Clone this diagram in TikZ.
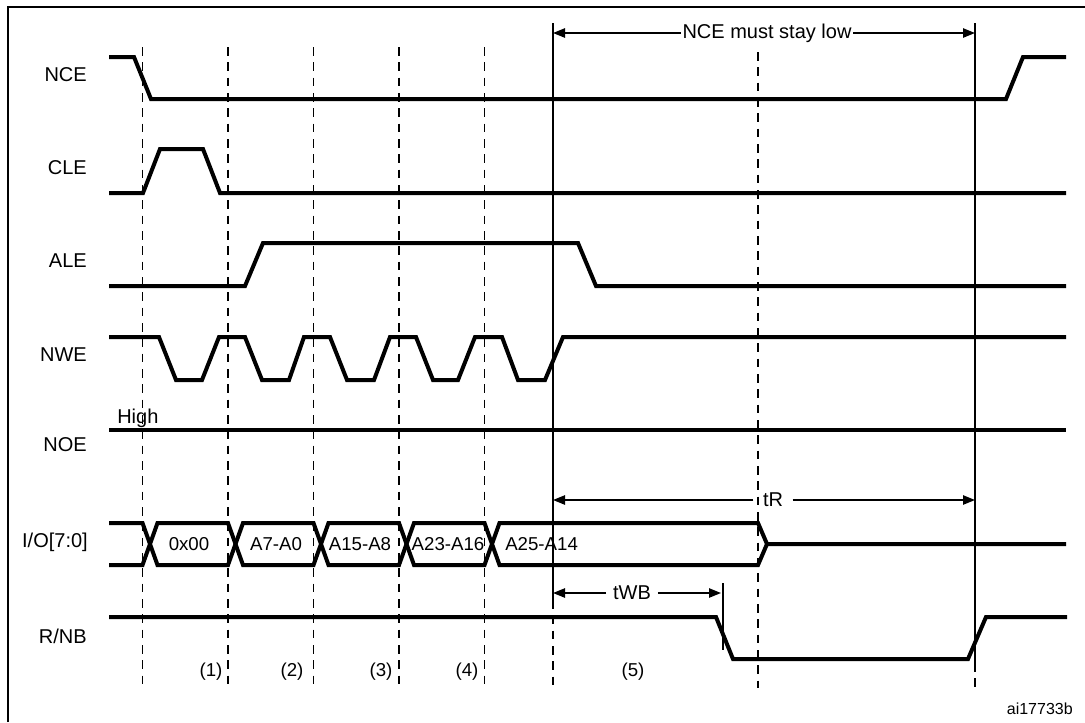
\documentclass[tikz,border=0pt]{standalone}
\usepackage{fontspec}
\setmainfont{Liberation Sans}
\usetikzlibrary{arrows.meta}
\begin{document}
\begin{tikzpicture}[x=0.75pt,y=-0.75pt,
  sig/.style={line width=3pt, line join=miter, line cap=butt},
  guide/.style={line width=1.1pt, dash pattern=on 6.5pt off 5pt},
  thinline/.style={line width=1.1pt},
  dim/.style={line width=1.1pt, -{Triangle[length=9pt,width=7pt]}},
  lbl/.style={font=\fontsize{15}{18}\selectfont, anchor=east, inner sep=0pt},
  txt/.style={font=\fontsize{15}{18}\selectfont, inner sep=0pt},
  bustxt/.style={font=\fontsize{14}{17}\selectfont, inner sep=0pt},
]
\useasboundingbox (0,0) rectangle (1085,722);
\fill[white] (0,0) rectangle (1085,722);
% frame (cut off at right and bottom)
\draw[line width=1.5pt] (7.5,722) -- (7.5,7) -- (1085,7);

% guide lines
\foreach \gx in {142.5,228,313.5,399,484.5}
  \draw[guide] (\gx,47) -- (\gx,688);
\draw[guide] (758,52) -- (758,688);
\draw[thinline] (553,23) -- (553,600);
\draw[guide] (553,600) -- (553,688);
\draw[thinline] (975,23) -- (975,663);
\draw[guide] (975,663) -- (975,688);

% signal labels
\node[lbl] (lnce) at (87,75) {NCE};
\node[lbl] (lcle) at (87,168) {CLE};
\node[lbl] (lale) at (87,261) {ALE};
\node[lbl] (lnwe) at (87,355) {NWE};
\node[lbl] (lnoe) at (87,445) {NOE};
\node[lbl] (lio) at (88,542) {I/O[7:0]};
\node[lbl] (lrnb) at (87,636) {R/NB};

% NCE
\draw[sig] (109,57) -- (134,57) -- (151,99) -- (1006,99) -- (1023,57) -- (1066,57);
% CLE
\draw[sig] (109,193) -- (143,193) -- (160,149) -- (203,149) -- (220,193) -- (1066,193);
% ALE
\draw[sig] (109,286) -- (245,286) -- (263,243) -- (578,243) -- (596,286) -- (1066,286);
% NWE
\draw[sig] (109,337) -- (159,337) -- (176,380) -- (202,380) -- (219,337)
  -- (245,337) -- (262,380) -- (289,380) -- (304,337)
  -- (330,337) -- (347,380) -- (374,380) -- (390,337)
  -- (416,337) -- (433,380) -- (458,380) -- (475,337)
  -- (502,337) -- (518,380) -- (545,380) -- (563,337) -- (1066,337);
% NOE
\draw[sig] (109,430) -- (1066,430);
\node[txt, anchor=base west] (high) at (117,423) {High};
% I/O bus
\draw[sig] (109,523) -- (142.5,523) -- (157.5,565) -- (228,565) -- (243,523)
  -- (313.5,523) -- (328.5,565) -- (399,565) -- (414,523)
  -- (484.5,523) -- (499.5,565) -- (758,565) -- (767,544) -- (1066,544);
\draw[sig] (109,565) -- (142.5,565) -- (157.5,523) -- (228,523) -- (243,565)
  -- (313.5,565) -- (328.5,523) -- (399,523) -- (414,565)
  -- (484.5,565) -- (499.5,523) -- (758,523) -- (767,544);
\node[bustxt] (b1) at (189,544) {0x00};
\node[bustxt] (b2) at (276,544) {A7-A0};
\node[bustxt] (b3) at (360,544) {A15-A8};
\node[bustxt] (b4) at (448,544) {A23-A16};
\node[bustxt, anchor=west] (b5) at (505,544) {A25-A14};
% R/NB
\draw[sig] (109,617) -- (716,617) -- (733,659) -- (968,659) -- (986,617) -- (1067,617);

% NCE must stay low
\node[txt, inner xsep=1pt] (ncelow) at (767,33) {NCE must stay low};
\coordinate (ncel) at (553,33);
\coordinate (ncer) at (975,33);
\draw[dim] (ncelow.west) -- (ncel);
\draw[dim] (ncelow.east) -- (ncer);

% tR
\node[txt, inner xsep=7pt] (tr) at (773,500) {tR};
\coordinate (trl) at (553,500);
\coordinate (trr) at (975,500);
\draw[dim] (tr.west) -- (trl);
\draw[dim] (tr.east) -- (trr);

% tWB
\node[txt, inner xsep=5pt] (twb) at (632,593) {tWB};
\coordinate (twbl) at (553,593);
\coordinate (twbr) at (721,593);
\draw[dim] (twb.west) -- (twbl);
\draw[dim] (twb.east) -- (twbr);
\draw[thinline] (723,583) -- (723,650);

% phase numbers
\node[bustxt] (p1) at (211,672) {(1)};
\node[bustxt] (p2) at (292,672) {(2)};
\node[bustxt] (p3) at (381,672) {(3)};
\node[bustxt] (p4) at (467,672) {(4)};
\node[bustxt] (p5) at (633,672) {(5)};

% figure id
\node[font=\fontsize{12}{14}\selectfont, inner sep=0pt, anchor=east] (fid) at (1073,709) {ai17733b};
\end{tikzpicture}
\end{document}
